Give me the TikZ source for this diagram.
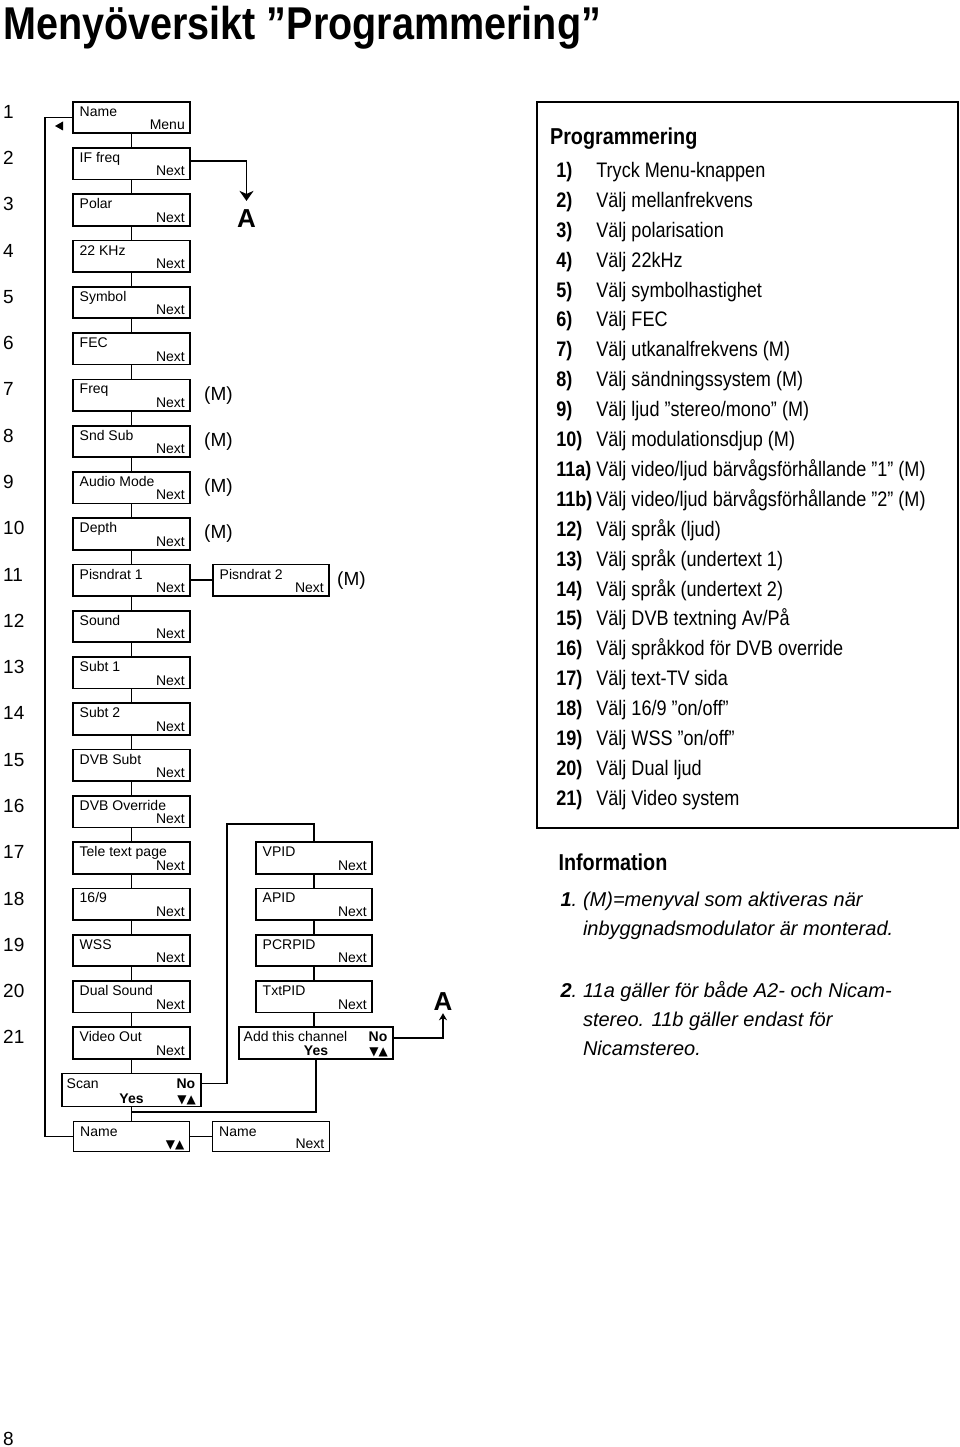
\documentclass[tikz,border=0pt]{standalone}
\usepackage{fontspec}
\setmainfont{Liberation Sans}
\newfontfamily\condf[FakeStretch=0.86]{Liberation Sans}
\newfontfamily\symf{DejaVu Sans}
\usetikzlibrary{arrows.meta, positioning}
\newcommand\boxtxt{\fontsize{14}{15}\selectfont}
\newcommand\updown{{\symf\fontsize{12}{12}\selectfont ▼▲}}

\begin{document}
\begin{tikzpicture}[
  x=1pt, y=-1pt,
  node distance = 14.78pt and 23pt,
  box/.style = {
    rectangle, draw, line width=1.7pt,
    minimum width=117pt, minimum height=31.5pt,
    inner sep=0pt, outer sep=0pt
  },
  tl/.style = {anchor=base west, xshift=6.5pt, yshift=-14.5pt, inner sep=0pt, font=\boxtxt},
  tr/.style = {anchor=base east, xshift=-5.5pt, yshift=-14.5pt, inner sep=0pt, font=\boxtxt\bfseries},
  br/.style = {anchor=base east, xshift=-5pt, yshift=3.5pt, inner sep=0pt, font=\boxtxt},
  bm/.style = {anchor=base, yshift=3.5pt, inner sep=0pt, font=\boxtxt\bfseries},
  mbox/.style 2 args = {box, label={[tl]north west:#1}, label={[br]south east:#2}},
  nbox/.style = {mbox={#1}{Next}},
  ybox/.style = {box, label={[tl, xshift=-2pt]north west:#1}, label={[tr]north east:No},
    label={[bm]south:Yes}, label={[br]south east:\updown}},
  mtag/.style = {font=\fontsize{19}{19}\selectfont, inner sep=0pt},
  bigA/.style = {font=\fontsize{26}{26}\selectfont\bfseries, inner sep=0pt, anchor=base},
  wire/.style = {line width=1.7pt},
  arrow/.style = {wire, -{Stealth[length=10pt, width=14pt, inset=3pt]}},
  arrowsm/.style = {wire, -{Stealth[length=7pt, width=8pt, inset=2pt]}},
  rownum/.style = {font=\fontsize{19}{46.28}\selectfont, align=left, inner sep=0pt, anchor=base west},
  pagetitle/.style = {font=\condf\bfseries\fontsize{46}{46}\selectfont, inner sep=0pt, anchor=base west},
  progframe/.style = {rectangle, draw, line width=1.7pt, minimum width=421pt, minimum height=726.6pt},
  head/.style = {font=\condf\bfseries\fontsize{23}{23}\selectfont, inner sep=0pt, anchor=base west},
  steps/.style = {font=\condf\fontsize{21}{29.9}\selectfont, align=left, inner sep=0pt, anchor=base west},
  notes/.style = {font=\itshape\fontsize{20}{29}\selectfont, align=left, inner sep=0pt, anchor=base west}
]
\useasboundingbox (0,0) rectangle (960,1447);

%--- RUBRIK ---
\node[pagetitle] (title) at (3,40) {Menyöversikt ”Programmering”};
% baslinjen för sista raden
\node[rownum] (rows) at (3,1043.9) {1\\2\\3\\4\\5\\6\\7\\8\\9\\10\\11\\12\\13\\14\\15\\16\\17\\18\\19\\20\\21};
\node[rownum] (pageno) at (3,1445) {8};

%--- HUVUDMENY ---
\node[mbox={Name}{Menu}] (b1) at (131.5,117.45) {};
\node[nbox=IF freq, below=of b1] (b2) {};
\node[nbox=Polar, below=of b2] (b3) {};
\node[nbox=22 KHz, below=of b3] (b4) {};
\node[nbox=Symbol, below=of b4] (b5) {};
\node[nbox=FEC, below=of b5] (b6) {};
\node[nbox=Freq, below=of b6] (b7) {};
\node[nbox=Snd Sub, below=of b7] (b8) {};
\node[nbox=Audio Mode, below=of b8] (b9) {};
\node[nbox=Depth, below=of b9] (b10) {};
\node[nbox=Pisndrat 1, below=of b10] (b11) {};
\node[nbox=Sound, below=of b11] (b12) {};
\node[nbox=Subt 1, below=of b12] (b13) {};
\node[nbox=Subt 2, below=of b13] (b14) {};
\node[nbox=DVB Subt, below=of b14] (b15) {};
\node[nbox=DVB Override, below=of b15] (b16) {};
\node[nbox=Tele text page, below=of b16] (b17) {};
\node[nbox=16/9, below=of b17] (b18) {};
\node[nbox=WSS, below=of b18] (b19) {};
\node[nbox=Dual Sound, below=of b19] (b20) {};
\node[nbox=Video Out, below=of b20] (b21) {};

%--- SCAN OCH NAMN ---
\node[ybox=Scan, minimum width=139pt, minimum height=33pt, below=of b21] (scan) {};
\node[mbox={Name}{\updown}, minimum width=116pt, minimum height=30pt, below=15pt of scan] (namea) {};
\node[mbox={Name}{Next}, minimum height=30pt, right=23pt of namea] (nameb) {};
\coordinate (jn) at ([yshift=-5.5pt]scan.south);

%--- SIDOMENYER ---
\node[nbox=Pisndrat 2, minimum width=116pt, right=23pt of b11] (p2) {};
\node[nbox=VPID, minimum width=116pt, right=66pt of b17] (vpid) {};
\node[nbox=APID, minimum width=116pt, below=of vpid] (apid) {};
\node[nbox=PCRPID, minimum width=116pt, below=of apid] (pcr) {};
\node[nbox=TxtPID, minimum width=116pt, below=of pcr] (txt) {};
\node[ybox=Add this channel, minimum width=154pt, right=49pt of b21] (addch) {};

%--- (M) OCH A ---
\node[mtag, right=14pt of b7] (m7) {(M)};
\node[mtag, right=14pt of b8] (m8) {(M)};
\node[mtag, right=14pt of b9] (m9) {(M)};
\node[mtag, right=14pt of b10] (m10) {(M)};
\node[mtag, right=8pt of p2] (mp2) {(M)};
\node[bigA] (atop) at (246.5,228) {A};
\node[bigA] (abot) at (443,1010) {A};

%--- LINJER ---
\foreach \i [count=\j from 2] in {1,...,20}
  \draw[wire] (b\i) -- (b\j);
\draw[wire] (b21) -- (scan);
\draw[wire] (scan) -- (namea);
\draw[wire] (namea) -- (nameb);
\draw[wire] (b11) -- (p2);
\draw[wire] (b1.west) -- ++(-28,0) |- (namea.west);
\fill (55,126) -- (63,121.5) -- (63,130.5) -- cycle;
\draw[arrow, shorten >=9pt] ([yshift=3pt]b2.east) -| (atop.north);
\draw[wire] (vpid) -- (apid);
\draw[wire] (apid) -- (pcr);
\draw[wire] (pcr) -- (txt);
\draw[wire] (txt.south) -- (txt.south |- addch.north);
\draw[wire] ([yshift=6.5pt]scan.east) -- ++(26,0) |- ([yshift=18pt]vpid.north) -- (vpid.north);
\draw[arrowsm, shorten >=3pt] ([yshift=5pt]addch.east) -| (abot.south);
\draw[wire] (addch.south) |- (jn);

%--- PROGRAMMERING ---
\node[progframe] (prog) at (747.2,465) {};
\node[head] (proghead) at ([xshift=14pt, yshift=-43.3pt]prog.north west) {Programmering};
\node[steps] (steplist) at ([xshift=20.3pt, yshift=-704.5pt]prog.north west) {%
\makebox[40pt][l]{\textbf{1)}}Tryck Menu-knappen\\
\makebox[40pt][l]{\textbf{2)}}Välj mellanfrekvens\\
\makebox[40pt][l]{\textbf{3)}}Välj polarisation\\
\makebox[40pt][l]{\textbf{4)}}Välj 22kHz\\
\makebox[40pt][l]{\textbf{5)}}Välj symbolhastighet\\
\makebox[40pt][l]{\textbf{6)}}Välj FEC\\
\makebox[40pt][l]{\textbf{7)}}Välj utkanalfrekvens (M)\\
\makebox[40pt][l]{\textbf{8)}}Välj sändningssystem (M)\\
\makebox[40pt][l]{\textbf{9)}}Välj ljud ”stereo/mono” (M)\\
\makebox[40pt][l]{\textbf{10)}}Välj modulationsdjup (M)\\
\makebox[40pt][l]{\textbf{11a)}}Välj video/ljud bärvågsförhållande ”1” (M)\\
\makebox[40pt][l]{\textbf{11b)}}Välj video/ljud bärvågsförhållande ”2” (M)\\
\makebox[40pt][l]{\textbf{12)}}Välj språk (ljud)\\
\makebox[40pt][l]{\textbf{13)}}Välj språk (undertext 1)\\
\makebox[40pt][l]{\textbf{14)}}Välj språk (undertext 2)\\
\makebox[40pt][l]{\textbf{15)}}Välj DVB textning Av/På\\
\makebox[40pt][l]{\textbf{16)}}Välj språkkod för DVB override\\
\makebox[40pt][l]{\textbf{17)}}Välj text-TV sida\\
\makebox[40pt][l]{\textbf{18)}}Välj 16/9 ”on/off”\\
\makebox[40pt][l]{\textbf{19)}}Välj WSS ”on/off”\\
\makebox[40pt][l]{\textbf{20)}}Välj Dual ljud\\
\makebox[40pt][l]{\textbf{21)}}Välj Video system};

%--- INFORMATION ---
\node[head] (infohead) at ([xshift=22.5pt, yshift=-41.7pt]prog.south west) {Information};
\node[notes] (infolist) at ([xshift=24.5pt, yshift=-226.4pt]prog.south west) {%
\makebox[22.5pt][l]{\textbf{1}.}(M)=menyval som aktiveras när\\
\hspace*{22.5pt}inbyggnadsmodulator är monterad.\\[32.7pt]
\makebox[22.5pt][l]{\textbf{2}.}11a gäller för både A2- och Nicam-\\
\hspace*{22.5pt}stereo. 11b gäller endast för\\
\hspace*{22.5pt}Nicamstereo.};
\end{tikzpicture}
\end{document}
